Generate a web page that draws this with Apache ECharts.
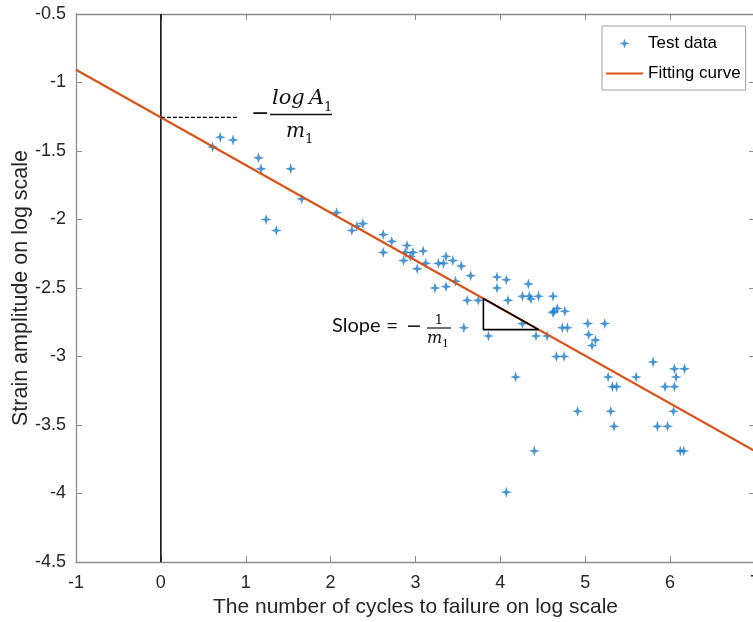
<!DOCTYPE html>
<html><head><meta charset="utf-8">
<script src="https://cdn.jsdelivr.net/npm/echarts@6/dist/echarts.min.js"></script>
<style>html,body{margin:0;padding:0;background:#fff}#chart{width:753px;height:622px}</style>
</head><body><div id="chart"></div>
<script>
// ---- data ----
const testX = [0.61,0.70,0.85,1.15,1.18,1.53,1.24,1.36,1.66,2.07,2.25,2.31,2.38,2.62,2.72,2.62,2.90,2.88,2.97,3.09,
  2.86,2.94,3.02,3.12,3.27,3.33,3.36,3.44,3.54,3.65,3.47,3.23,3.36,3.61,3.74,3.57,3.96,4.07,3.96,4.09,
  4.33,4.26,4.34,4.36,4.45,4.62,4.67,4.63,4.62,4.76,4.73,4.79,3.86,4.26,4.42,4.55,4.66,4.75,4.18,4.40,
  4.07,5.03,5.23,5.04,5.12,5.08,4.91,5.27,5.60,5.32,5.37,5.30,5.34,5.80,6.05,6.17,6.07,5.94,6.05,6.04,
  5.85,5.97,6.12,6.16];
const testY = [-1.47,-1.40,-1.42,-1.55,-1.63,-1.63,-2.00,-2.08,-1.85,-1.95,-2.08,-2.05,-2.03,-2.11,-2.16,-2.24,-2.19,-2.24,-2.24,-2.23,
  -2.30,-2.27,-2.36,-2.32,-2.32,-2.32,-2.27,-2.30,-2.34,-2.41,-2.45,-2.50,-2.49,-2.59,-2.59,-2.79,-2.42,-2.44,-2.50,-2.59,
  -2.47,-2.56,-2.56,-2.58,-2.56,-2.56,-2.65,-2.67,-2.68,-2.67,-2.79,-2.79,-2.85,-2.76,-2.85,-2.85,-3.00,-3.00,-3.15,-3.69,
  -3.99,-2.76,-2.76,-2.84,-2.88,-2.92,-3.40,-3.15,-3.15,-3.22,-3.22,-3.40,-3.51,-3.04,-3.09,-3.09,-3.15,-3.22,-3.22,-3.40,
  -3.51,-3.51,-3.69,-3.69];
const fitX = [-1, 7];
const fitY = [-0.907, -3.691];
const zeroLineX = [0, 0];
const zeroLineY = [-4.5, -0.5];
const interceptX = [0, 0.9];
const interceptY = [-1.255, -1.255];
const triangleX = [3.8, 3.8, 4.45, 3.8];
const triangleY = [-2.577, -2.804, -2.804, -2.577];
const xMin = -1, xMax = 7, xStep = 1;
const yMin = -4.5, yMax = -0.5, yStep = 0.5;
const xTitle = 'The number of cycles to failure on log scale';
const yTitle = 'Strain amplitude on log scale';
const seriesNames = ['Test data', 'Fitting curve'];

// ---- chart ----
const zip = (a, b) => a.map((v, i) => [v, b[i]]);
const FONT = '"Liberation Sans", Arial, sans-serif';
const AX = '#8c8c8c', TXT = '#262626';
const star = 'path://M5 0L6.2 3.8L10 5L6.2 6.2L5 10L3.8 6.2L0 5L3.8 3.8Z';

const chart = echarts.init(document.getElementById('chart'), null, {renderer: 'canvas'});
const axisCommon = {
  type: 'value',
  splitLine: {show: false},
  axisLine: {show: true, onZero: false, lineStyle: {color: AX, width: 1.3}},
  axisTick: {show: true, inside: true, length: 6, lineStyle: {color: AX, width: 1}}
};
chart.setOption({
  animation: false,
  backgroundColor: '#fff',
  grid: {left: 76, top: 14, width: 679, height: 548, containLabel: false, outerBoundsMode: 'none'},
  xAxis: [
    Object.assign({}, axisCommon, {
      min: xMin, max: xMax, interval: xStep, position: 'bottom',
      axisLabel: {color: TXT, fontSize: 18, fontFamily: FONT, margin: 12},
      name: xTitle, nameLocation: 'middle', nameGap: 35, nameMoveOverlap: false,
      nameTextStyle: {color: TXT, fontSize: 21, fontFamily: FONT}
    }),
    Object.assign({}, axisCommon, {
      min: xMin, max: xMax, interval: xStep, position: 'top', axisLabel: {show: false}
    })
  ],
  yAxis: [
    Object.assign({}, axisCommon, {
      min: yMin, max: yMax, interval: yStep, position: 'left',
      axisLabel: {color: TXT, fontSize: 18, fontFamily: FONT, margin: 10},
      name: yTitle, nameLocation: 'middle', nameGap: 44, nameMoveOverlap: false,
      nameTextStyle: {color: TXT, fontSize: 21.5, fontFamily: FONT}
    }),
    Object.assign({}, axisCommon, {
      min: yMin, max: yMax, interval: yStep, position: 'right', axisLabel: {show: false}
    })
  ],
  legend: {
    data: [{name: seriesNames[0]}, {name: seriesNames[1], itemStyle: {opacity: 0}}],
    orient: 'vertical', left: 602, top: 26,
    itemWidth: 37, itemHeight: 10, itemGap: 13,
    padding: [9, 5, 8, 3],
    borderColor: '#a0a0a0', borderWidth: 1, backgroundColor: '#fff',
    textStyle: {color: '#000', fontSize: 17, fontFamily: FONT},
    selectedMode: false
  },
  series: [
    {
      name: seriesNames[0], type: 'scatter', data: zip(testX, testY),
      symbol: star, symbolSize: 11,
      itemStyle: {color: '#1a7cc8'}, z: 3
    },
    {
      name: seriesNames[1], type: 'line', data: zip(fitX, fitY),
      symbol: 'none', showSymbol: false,
      lineStyle: {color: '#D95319', width: 2.2}, itemStyle: {color: '#D95319'}, z: 4
    },
    {
      type: 'line', data: zip(zeroLineX, zeroLineY), symbol: 'none',
      lineStyle: {color: '#000', width: 1.5}, z: 2, silent: true
    },
    {
      type: 'line', data: zip(interceptX, interceptY), symbol: 'none',
      lineStyle: {color: '#000', width: 1.2, type: [4, 2]}, z: 5, silent: true
    },
    {
      type: 'line', data: zip(triangleX, triangleY), symbol: 'none',
      lineStyle: {color: '#000', width: 1.6}, z: 5, silent: true
    }
  ],
  graphic: [
    // -logA1/m1
    {type: 'text', z: 10, style: {x: 251, y: 114, text: '\u2212', font: '22px "DejaVu Sans"', fill: '#111', verticalAlign: 'middle'}},
    {type: 'text', z: 10, style: {x: 272, y: 99, text: 'log\u2009A', font: 'italic 21px "DejaVu Serif"', fill: '#111', verticalAlign: 'middle'}},
    {type: 'text', z: 10, style: {x: 324, y: 108, text: '1', font: '13px "DejaVu Serif"', fill: '#111', verticalAlign: 'middle'}},
    {type: 'line', z: 10, shape: {x1: 270, y1: 114.5, x2: 332, y2: 114.5}, style: {stroke: '#111', lineWidth: 1.5}},
    {type: 'text', z: 10, style: {x: 286, y: 132, text: 'm', font: 'italic 20px "DejaVu Serif"', fill: '#111', verticalAlign: 'middle'}},
    {type: 'text', z: 10, style: {x: 305, y: 140, text: '1', font: '13px "DejaVu Serif"', fill: '#111', verticalAlign: 'middle'}},
    // Slope = -1/m1
    {type: 'text', z: 10, style: {x: 332, y: 326, text: 'Slope', font: '20px Lato', fill: '#111', verticalAlign: 'middle'}},
    {type: 'text', z: 10, style: {x: 386, y: 326, text: '=', font: '21px Lato', fill: '#111', verticalAlign: 'middle'}},
    {type: 'text', z: 10, style: {x: 406, y: 327, text: '\u2212', font: '19px "DejaVu Sans"', fill: '#111', verticalAlign: 'middle'}},
    {type: 'text', z: 10, style: {x: 439, y: 321, text: '1', font: '13px "DejaVu Serif"', fill: '#111', verticalAlign: 'middle', align: 'center'}},
    {type: 'line', z: 10, shape: {x1: 427, y1: 328, x2: 451, y2: 328}, style: {stroke: '#111', lineWidth: 1.2}},
    {type: 'text', z: 10, style: {x: 427, y: 339, text: 'm', font: 'italic 16px "DejaVu Serif"', fill: '#111', verticalAlign: 'middle'}},
    {type: 'text', z: 10, style: {x: 442, y: 344, text: '1', font: '11px "DejaVu Serif"', fill: '#111', verticalAlign: 'middle'}}
  ]
});
</script></body></html>
